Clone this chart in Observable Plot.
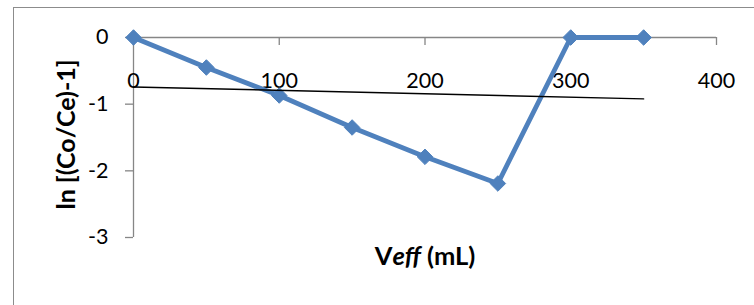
<!DOCTYPE html>
<html><head><meta charset="utf-8">
<script src="https://cdn.jsdelivr.net/npm/d3@7"></script>
<script src="https://cdn.jsdelivr.net/npm/@observablehq/plot@0.6"></script>
<style>
html,body{margin:0;padding:0;background:#fff;overflow:hidden}
#wrap{position:relative;width:754px;height:305px;overflow:hidden}
#border{position:absolute;left:13px;top:7px;width:800px;height:400px;border:1px solid #8c8c8c;box-sizing:border-box}
#wrap svg{position:absolute;left:0;top:0}
</style></head><body><div id="wrap"><div id="border"></div></div>
<script>
const veff = [0, 50, 100, 150, 200, 250, 300, 350];
const lnRatio = [0, -0.45, -0.87, -1.35, -1.79, -2.19, 0, 0];
const xTicks = [0, 100, 200, 300, 400];
const yTicks = [0, -1, -2, -3];
const xTitle = "Veff (mL)";
const yTitle = "ln [(Co/Ce)-1]";

const data = veff.map((x, i) => ({x, y: lnRatio[i]}));
const axisGray = "#868686";
const blue = "#4f81bd";
const font = "Lato, 'Open Sans', sans-serif";

const chart = Plot.plot({
  width: 754,
  height: 305,
  marginLeft: 133,
  marginRight: 38,
  marginTop: 37,
  marginBottom: 68,
  style: {fontFamily: font, background: "transparent", color: "#000"},
  x: {domain: [0, 400], axis: null},
  y: {domain: [-3, 0], axis: null},
  marks: [
    Plot.ruleX([0], {stroke: axisGray, strokeWidth: 1.3}),
    Plot.ruleY([0], {stroke: axisGray, strokeWidth: 1.3}),
    Plot.tickX(xTicks, {x: d => d, stroke: axisGray, strokeWidth: 1.3, insetBottom: 192}),
    Plot.axisY({ticks: yTicks, tickSize: 8, tickPadding: 17, tickFormat: d => String(d),
      stroke: axisGray, strokeWidth: 1.3, fontSize: 21.5, fill: "#000", label: null}),
    Plot.text(xTicks, {x: d => d, frameAnchor: "top", dy: 35, text: d => String(d), fontSize: 21.5, fill: "#000"}),
    Plot.line(data, {x: "x", y: "y", stroke: blue, strokeWidth: 4.8}),
    Plot.dot(data, {x: "x", y: "y", symbol: "diamond2", r: 7, fill: blue, stroke: blue, strokeWidth: 1}),
    Plot.linearRegressionY(data, {x: "x", y: "y", ci: 0, stroke: "#000", strokeWidth: 1.4}),
    Plot.text([yTitle], {frameAnchor: "left", dx: -67, dy: -3, rotate: -90, textAnchor: "middle", text: d => d,
      fontSize: 25, fontWeight: "bold", fill: "#000"}),
    Plot.text([xTitle], {frameAnchor: "bottom", dy: 27, textAnchor: "middle", text: d => d,
      fontSize: 25.5, fontWeight: "bold", fill: "#000", className: "xtitle"})
  ]
});

document.getElementById("wrap").appendChild(chart);

// Style the x title: "V" upright, "eff" italic, " (mL)" upright
d3.select(chart).selectAll(".xtitle text").each(function () {
  const t = d3.select(this);
  t.text(null);
  t.append("tspan").text("V");
  t.append("tspan").attr("font-style", "italic").text("eff");
  t.append("tspan").text(" (mL)");
});
</script>
</body></html>
